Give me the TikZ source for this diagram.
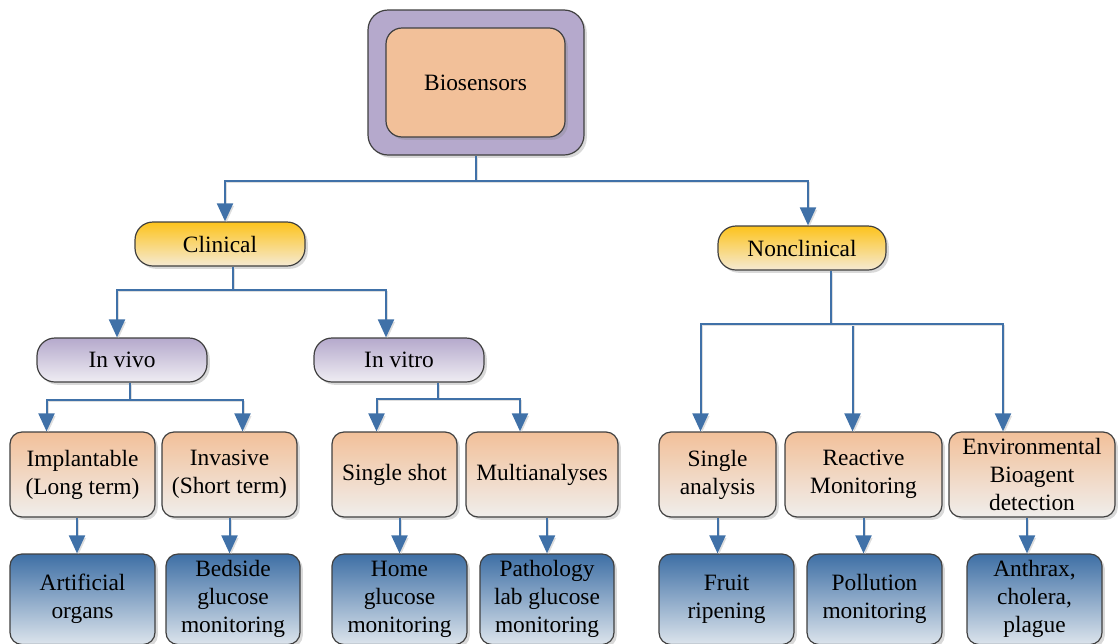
\documentclass[tikz,border=0pt]{standalone}
\usepackage{fontspec}
\setmainfont{Liberation Serif}
\usetikzlibrary{arrows.meta,shadows}

\definecolor{linkblue}{RGB}{64,113,168}
\definecolor{edgegray}{RGB}{64,64,64}
\definecolor{lavender}{RGB}{181,169,204}
\definecolor{lilacpale}{RGB}{239,237,243}
\definecolor{peach}{RGB}{242,192,153}
\definecolor{peachpale}{RGB}{240,238,236}
\definecolor{gold}{RGB}{253,195,28}
\definecolor{goldpale}{RGB}{245,234,211}
\definecolor{steel}{RGB}{62,111,165}
\definecolor{steelpale}{RGB}{220,228,236}

\tikzset{
  box/.style={draw=edgegray, line width=0.6pt, rounded corners=6pt, align=center, inner sep=1pt,
    font=\fontsize{11.7}{14}\selectfont,
    drop shadow={shadow xshift=1.4pt, shadow yshift=-1.4pt, opacity=.3}},
  rootframe/.style={box, rounded corners=10pt, fill=lavender, minimum width=108pt, minimum height=72.5pt},
  rootbox/.style={box, rounded corners=8pt, fill=peach, minimum width=89.5pt, minimum height=54.5pt},
  branchbox/.style={box, rounded corners=9pt, minimum height=22pt, top color=gold, bottom color=goldpale},
  kindbox/.style={box, rounded corners=9pt, minimum width=85pt, minimum height=22pt,
    top color=lavender, bottom color=lilacpale},
  usebox/.style={box, minimum height=42.5pt, top color=peach, bottom color=peachpale},
  casebox/.style={box, minimum height=45.25pt, top color=steel, bottom color=steelpale},
  link/.style={draw=linkblue, line width=1pt, -{Triangle[length=9pt,width=8pt]},
    preaction={draw=black!13, transform canvas={shift={(0.9pt,-0.9pt)}}}}
}

\begin{document}
\begin{tikzpicture}[x=0.5pt, y=-0.5pt]
\useasboundingbox (0,0) rectangle (1118,643);

\node[rootframe] (bioframe) at (476,82.5) {};
\node[rootbox] (bio) at (475.5,82.5) {Biosensors};

\node[branchbox, minimum width=85pt] (clin) at (220,244) {Clinical};
\node[branchbox, minimum width=84pt] (nonclin) at (802,248) {Nonclinical};

\node[kindbox] (invivo) at (122,360) {In vivo};
\node[kindbox] (invitro) at (399,360) {In vitro};

% uses
\node[usebox, minimum width=72.5pt] (impl) at (82.5,474.5) {Implantable\\(Long term)};
\node[usebox, minimum width=67.5pt] (invas) at (229.5,474.5) {Invasive\\(Short term)};
\node[usebox, minimum width=62.5pt] (shot) at (394.5,474.5) {Single shot};
\node[usebox, minimum width=76pt] (multi) at (542,474.5) {Multianalyses};
\node[usebox, minimum width=58.5pt] (sanal) at (717.5,474.5) {Single\\analysis};
\node[usebox, minimum width=78.5pt] (react) at (863.5,474.5) {Reactive\\Monitoring};
\node[usebox, minimum width=83pt] (envir) at (1032,474.5) {Environmental\\Bioagent\\detection};

% examples
\node[casebox, minimum width=72.5pt] (arti) at (82.5,599.25) {Artificial\\organs};
\node[casebox, minimum width=67pt] (bed) at (233,599.25) {Bedside\\glucose\\monitoring};
\node[casebox, minimum width=67.5pt] (home) at (399.5,599.25) {Home\\glucose\\monitoring};
\node[casebox, minimum width=67pt] (patho) at (547,599.25) {Pathology\\lab glucose\\monitoring};
\node[casebox, minimum width=67.5pt] (fruit) at (726.5,599.25) {Fruit\\ripening};
\node[casebox, minimum width=67.5pt] (poll) at (874.5,599.25) {Pollution\\monitoring};
\node[casebox, minimum width=67.5pt] (anth) at (1034.5,599.25) {Anthrax,\\cholera,\\plague};

\draw[link] (bioframe.south) -- ++(0,-12.5pt) -| ([xshift=2.5pt]clin.north);
\draw[link] (bioframe.south) -- ++(0,-12.5pt) -| ([xshift=3pt]nonclin.north);

\draw[link] ([xshift=6.5pt]clin.south) -- ++(0,-11.5pt) -| ([xshift=-2.5pt]invivo.north);
\draw[link] ([xshift=6.5pt]clin.south) -- ++(0,-11.5pt) -| ([xshift=-6.5pt]invitro.north);

\draw[link] ([xshift=4pt]invivo.south) -- ++(0,-8.5pt) -| ([xshift=-18pt]impl.north);
\draw[link] ([xshift=4pt]invivo.south) -- ++(0,-8.5pt) -| ([xshift=6.5pt]invas.north);
\draw[link] ([xshift=19.5pt]invitro.south) -- ++(0,-8pt) -| ([xshift=-9pt]shot.north);
\draw[link] ([xshift=19.5pt]invitro.south) -- ++(0,-8pt) -| ([xshift=-11pt]multi.north);

\draw[link] ([xshift=14.5pt]nonclin.south) -- ++(0,-26.5pt) -| ([xshift=-8.5pt]sanal.north);
\draw[link] ([xshift=14.5pt]nonclin.south) -- ++(0,-26.5pt) -| ([xshift=-5.5pt]react.north);
\draw[link] ([xshift=14.5pt]nonclin.south) -- ++(0,-26.5pt) -| ([xshift=-14.5pt]envir.north);

\draw[link] ([xshift=-2.75pt]impl.south) -- ([xshift=-2.75pt]arti.north);
\draw[link] (invas.south) -- (invas.south |- bed.north);
\draw[link] (shot.south -| home.north) -- (home.north);
\draw[link] (multi.south -| patho.north) -- (patho.north);
\draw[link] (sanal.south) -- (sanal.south |- fruit.north);
\draw[link] (react.south) -- (react.south |- poll.north);
\draw[link] ([xshift=-2.5pt]envir.south) -- ([xshift=-2.5pt]envir.south |- anth.north);
\end{tikzpicture}
\end{document}
